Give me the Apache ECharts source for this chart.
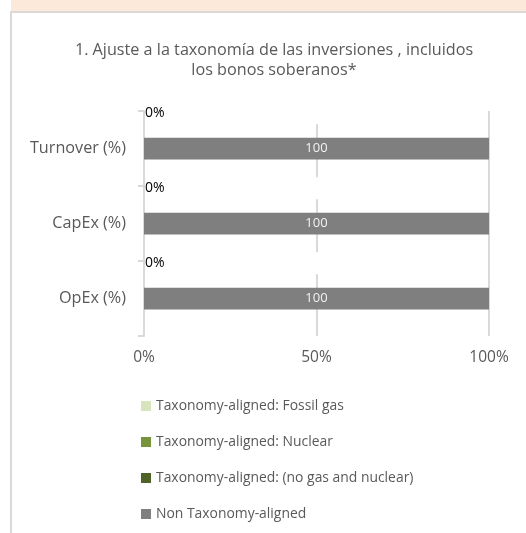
<!DOCTYPE html>
<html>
<head>
<meta charset="utf-8">
<script src="https://cdn.jsdelivr.net/npm/echarts@6/dist/echarts.min.js"></script>
<style>
  html, body { margin: 0; padding: 0; background: #fff; }
  #chart { width: 526px; height: 533px; }
</style>
</head>
<body>
<div id="chart"></div>
<script>
// data
const categories = ['Turnover (%)', 'CapEx (%)', 'OpEx (%)']
const fossilGas = [0, 0, 0]
const nuclear = [0, 0, 0]
const alignedNoGasNuclear = [0, 0, 0]
const nonAligned = [100, 100, 100]
const xTicks = [0, 50, 100]

const seriesNames = [
  'Taxonomy-aligned: Fossil gas',
  'Taxonomy-aligned: Nuclear',
  'Taxonomy-aligned: (no gas and nuclear)',
  'Non Taxonomy-aligned'
]
const seriesColors = ['#d8e4bc', '#77933c', '#4f6228', '#7f7f7f']

const font = 'Open Sans'
const grey = '#595959'

const chart = echarts.init(document.getElementById('chart'))

// "0%" label sitting at the top of each category band
const zeroLabel = {
  show: true,
  position: [1, -24.5],
  align: 'left',
  verticalAlign: 'middle',
  formatter: '{c}%',
  color: '#000',
  fontFamily: font,
  fontSize: 14,
  backgroundColor: '#fff',
  width: 175,
  padding: [2, 0, 6, 0]
}

const option = {
  animation: false,
  backgroundColor: '#fff',
  graphic: [
    { type: 'rect', shape: { x: 11, y: 0, width: 515, height: 11 }, style: { fill: '#fce9d9' }, silent: true },
    { type: 'line', shape: { x1: 11, y1: 12, x2: 526, y2: 12 }, style: { stroke: '#d9d9d9', lineWidth: 2 }, silent: true },
    { type: 'line', shape: { x1: 11, y1: 11, x2: 11, y2: 533 }, style: { stroke: '#d9d9d9', lineWidth: 2 }, silent: true }
  ],
  title: {
    text: '1. Ajuste a la taxonomía de las inversiones , incluidos\nlos bonos soberanos*',
    left: 269,
    textAlign: 'center',
    top: 35,
    textStyle: {
      color: grey,
      fontFamily: font,
      fontSize: 16.2,
      fontWeight: 'normal',
      lineHeight: 20
    }
  },
  legend: {
    orient: 'vertical',
    left: 141,
    top: 399,
    padding: 0,
    itemWidth: 10,
    itemHeight: 10,
    itemGap: 22,
    icon: 'rect',
    data: seriesNames,
    textStyle: { color: grey, fontFamily: font, fontSize: 13.9 }
  },
  grid: { left: 144, right: 37, top: 111, bottom: 197 },
  xAxis: {
    type: 'value',
    min: xTicks[0],
    max: xTicks[xTicks.length - 1],
    interval: 50,
    axisLine: { show: false },
    axisTick: { show: false },
    axisLabel: { formatter: '{value}%', color: grey, fontFamily: font, fontSize: 15.5, margin: 14 },
    splitLine: { lineStyle: { color: '#d9d9d9', width: 2 } }
  },
  yAxis: {
    type: 'category',
    inverse: true,
    data: categories,
    axisLine: { lineStyle: { color: '#d9d9d9', width: 2 } },
    axisTick: { show: true, length: 6, lineStyle: { color: '#d9d9d9', width: 2 } },
    axisLabel: { color: grey, fontFamily: font, fontSize: 16.2, margin: 18 }
  },
  series: [
    { name: seriesNames[0], type: 'bar', stack: 'total', barWidth: '29%', itemStyle: { color: seriesColors[0] }, data: fossilGas },
    { name: seriesNames[1], type: 'bar', stack: 'total', itemStyle: { color: seriesColors[1] }, data: nuclear },
    { name: seriesNames[2], type: 'bar', stack: 'total', itemStyle: { color: seriesColors[2] }, label: zeroLabel, data: alignedNoGasNuclear },
    {
      name: seriesNames[3], type: 'bar', stack: 'total',
      itemStyle: { color: seriesColors[3] },
      label: { show: true, position: 'inside', color: '#f2f2f2', fontFamily: font, fontSize: 13 },
      data: nonAligned
    }
  ]
}
chart.setOption(option)
</script>
</body>
</html>
